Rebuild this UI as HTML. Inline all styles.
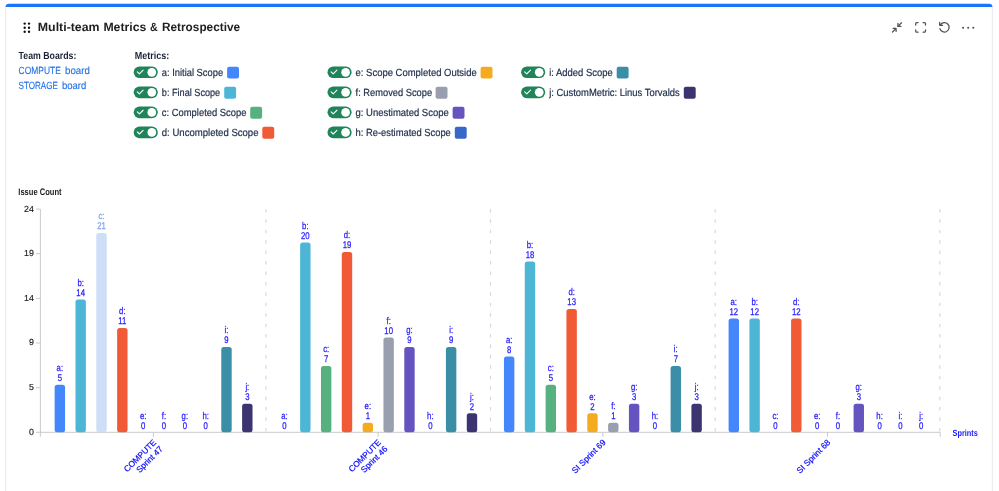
<!DOCTYPE html>
<html lang="en"><head><meta charset="utf-8"><title>Multi-team Metrics &amp; Retrospective</title>
<style>
html,body{margin:0;padding:0;background:#fff;}
body{width:999px;height:491px;overflow:hidden;position:relative;font-family:"Liberation Sans", sans-serif;}
svg{position:absolute;left:0;top:0;}
svg text{font-family:"Liberation Sans", sans-serif;text-rendering:geometricPrecision;}
.lg{font-size:10.4px;fill:#22314e;stroke:#22314e;stroke-width:0.2px;}
.hd{font-size:10.3px;font-weight:bold;fill:#1b2436;}
.lk{font-size:10.4px;fill:#2673ea;stroke:#2673ea;stroke-width:0.15px;}
.lb{font-size:9.7px;fill:#2418ff;stroke:#2418ff;stroke-width:0.25px;text-anchor:middle;}.lb.hl{fill:#7fa3f3;stroke:#7fa3f3;}
.yt{font-size:8.8px;fill:#1a1a1a;stroke:#1a1a1a;stroke-width:0.15px;text-anchor:end;}
.xl{font-size:8.4px;fill:#0a0aff;stroke:#0a0aff;stroke-width:0.2px;text-anchor:end;}
</style></head><body>
<svg width="999" height="491" viewBox="0 0 999 491">
<g id="panel">
<defs><clipPath id="topclip"><rect x="0" y="0" width="999" height="6.9"/></clipPath></defs>
<rect x="5.5" y="3.8" width="987" height="12" rx="3.6" fill="#1a76f6" clip-path="url(#topclip)"/>
<path d="M5.6 6.9 V491 M992.4 6.9 V491" stroke="#e6e7ea" stroke-width="0.9" fill="none"/>
</g>
<g id="header">
<circle cx="24.7" cy="23.6" r="1.18" fill="#111"/>
<circle cx="24.7" cy="27.7" r="1.18" fill="#111"/>
<circle cx="24.7" cy="31.8" r="1.18" fill="#111"/>
<circle cx="29.0" cy="23.6" r="1.18" fill="#111"/>
<circle cx="29.0" cy="27.7" r="1.18" fill="#111"/>
<circle cx="29.0" cy="31.8" r="1.18" fill="#111"/>
<text y="30.9" font-size="12px" font-weight="bold" fill="#1e1f21"><tspan x="37.8" textLength="61.8" lengthAdjust="spacingAndGlyphs">Multi-team</tspan> <tspan x="103.4" textLength="43" lengthAdjust="spacingAndGlyphs">Metrics</tspan> <tspan x="150.0" textLength="7.7" lengthAdjust="spacingAndGlyphs">&amp;</tspan> <tspan x="162" textLength="78.1" lengthAdjust="spacingAndGlyphs">Retrospective</tspan></text>
<g fill="none" stroke="#4e525a" stroke-width="1.25" stroke-linecap="round" stroke-linejoin="round">
<path d="M901.5 22.8 L897.9 26.4 M897.9 23.4 V26.4 H900.9"/>
<path d="M892.5 32 L896.1 28.4 M896.1 31.4 V28.4 H893.1"/>
<path d="M915.7 25 V23.6 Q915.7 22.6 916.7 22.6 H918.1 M923.1 22.6 H924.5 Q925.5 22.6 925.5 23.6 V25 M925.5 29.8 V31.2 Q925.5 32.2 924.5 32.2 H923.1 M918.1 32.2 H916.7 Q915.7 32.2 915.7 31.2 V29.8"/>
<path d="M940.6 24.6 A4.7 4.7 0 1 1 939.9 28.6 M939.7 22.4 V25.3 H942.6"/>
</g>
<circle cx="963.1" cy="27.8" r="1.05" fill="#4e525a"/>
<circle cx="968.2" cy="27.8" r="1.05" fill="#4e525a"/>
<circle cx="973.3" cy="27.8" r="1.05" fill="#4e525a"/>
</g>
<g id="filters">
<text class="hd" x="18.6" y="59.0" textLength="57.7" lengthAdjust="spacingAndGlyphs">Team Boards:</text>
<text class="lk" y="74.2"><tspan x="18.6" textLength="42.3" lengthAdjust="spacingAndGlyphs">COMPUTE</tspan> <tspan x="65.0" textLength="24.8" lengthAdjust="spacingAndGlyphs">board</tspan></text>
<text class="lk" y="89.2"><tspan x="18.6" textLength="39.3" lengthAdjust="spacingAndGlyphs">STORAGE</tspan> <tspan x="61.9" textLength="24.4" lengthAdjust="spacingAndGlyphs">board</tspan></text>
<text class="hd" x="134.7" y="59.1" textLength="34.5" lengthAdjust="spacingAndGlyphs">Metrics:</text>
<rect x="133.7" y="66.40" width="24.1" height="11.7" rx="5.85" fill="#1f845a"/>
<circle cx="151.8" cy="72.30" r="4.35" fill="#fff"/>
<path d="M137.3 71.85 l2.1 2 l3.7 -3.7" fill="none" stroke="#fff" stroke-width="1.1" stroke-linecap="round" stroke-linejoin="round"/>
<text class="lg" x="161.8" y="75.90" textLength="61.3" lengthAdjust="spacingAndGlyphs">a: Initial Scope</text>
<rect x="227.1" y="66.70" width="11.9" height="11.9" rx="2" fill="#4486fc"/>
<rect x="133.7" y="86.45" width="24.1" height="11.7" rx="5.85" fill="#1f845a"/>
<circle cx="151.8" cy="92.35" r="4.35" fill="#fff"/>
<path d="M137.3 91.90 l2.1 2 l3.7 -3.7" fill="none" stroke="#fff" stroke-width="1.1" stroke-linecap="round" stroke-linejoin="round"/>
<text class="lg" x="161.8" y="95.95" textLength="58.4" lengthAdjust="spacingAndGlyphs">b: Final Scope</text>
<rect x="224.2" y="86.75" width="11.9" height="11.9" rx="2" fill="#4db6d6"/>
<rect x="133.7" y="106.50" width="24.1" height="11.7" rx="5.85" fill="#1f845a"/>
<circle cx="151.8" cy="112.40" r="4.35" fill="#fff"/>
<path d="M137.3 111.95 l2.1 2 l3.7 -3.7" fill="none" stroke="#fff" stroke-width="1.1" stroke-linecap="round" stroke-linejoin="round"/>
<text class="lg" x="161.8" y="116.00" textLength="84.7" lengthAdjust="spacingAndGlyphs">c: Completed Scope</text>
<rect x="250.2" y="106.80" width="11.9" height="11.9" rx="2" fill="#57b17f"/>
<rect x="133.7" y="126.55" width="24.1" height="11.7" rx="5.85" fill="#1f845a"/>
<circle cx="151.8" cy="132.45" r="4.35" fill="#fff"/>
<path d="M137.3 132.00 l2.1 2 l3.7 -3.7" fill="none" stroke="#fff" stroke-width="1.1" stroke-linecap="round" stroke-linejoin="round"/>
<text class="lg" x="161.8" y="136.05" textLength="96.7" lengthAdjust="spacingAndGlyphs">d: Uncompleted Scope</text>
<rect x="262.3" y="126.85" width="11.9" height="11.9" rx="2" fill="#f05a35"/>
<rect x="327.5" y="66.40" width="24.1" height="11.7" rx="5.85" fill="#1f845a"/>
<circle cx="345.6" cy="72.30" r="4.35" fill="#fff"/>
<path d="M331.1 71.85 l2.1 2 l3.7 -3.7" fill="none" stroke="#fff" stroke-width="1.1" stroke-linecap="round" stroke-linejoin="round"/>
<text class="lg" x="355.6" y="75.90" textLength="121.1" lengthAdjust="spacingAndGlyphs">e: Scope Completed Outside</text>
<rect x="480.6" y="66.70" width="11.9" height="11.9" rx="2" fill="#f5ab1f"/>
<rect x="327.5" y="86.45" width="24.1" height="11.7" rx="5.85" fill="#1f845a"/>
<circle cx="345.6" cy="92.35" r="4.35" fill="#fff"/>
<path d="M331.1 91.90 l2.1 2 l3.7 -3.7" fill="none" stroke="#fff" stroke-width="1.1" stroke-linecap="round" stroke-linejoin="round"/>
<text class="lg" x="355.6" y="95.95" textLength="76.5" lengthAdjust="spacingAndGlyphs">f: Removed Scope</text>
<rect x="435.6" y="86.75" width="11.9" height="11.9" rx="2" fill="#9a9fb0"/>
<rect x="327.5" y="106.50" width="24.1" height="11.7" rx="5.85" fill="#1f845a"/>
<circle cx="345.6" cy="112.40" r="4.35" fill="#fff"/>
<path d="M331.1 111.95 l2.1 2 l3.7 -3.7" fill="none" stroke="#fff" stroke-width="1.1" stroke-linecap="round" stroke-linejoin="round"/>
<text class="lg" x="355.6" y="116.00" textLength="93.1" lengthAdjust="spacingAndGlyphs">g: Unestimated Scope</text>
<rect x="452.6" y="106.80" width="11.9" height="11.9" rx="2" fill="#6554c0"/>
<rect x="327.5" y="126.55" width="24.1" height="11.7" rx="5.85" fill="#1f845a"/>
<circle cx="345.6" cy="132.45" r="4.35" fill="#fff"/>
<path d="M331.1 132.00 l2.1 2 l3.7 -3.7" fill="none" stroke="#fff" stroke-width="1.1" stroke-linecap="round" stroke-linejoin="round"/>
<text class="lg" x="355.6" y="136.05" textLength="95.2" lengthAdjust="spacingAndGlyphs">h: Re-estimated Scope</text>
<rect x="454.8" y="126.85" width="11.9" height="11.9" rx="2" fill="#3568c9"/>
<rect x="521.1" y="66.40" width="24.1" height="11.7" rx="5.85" fill="#1f845a"/>
<circle cx="539.2" cy="72.30" r="4.35" fill="#fff"/>
<path d="M524.7 71.85 l2.1 2 l3.7 -3.7" fill="none" stroke="#fff" stroke-width="1.1" stroke-linecap="round" stroke-linejoin="round"/>
<text class="lg" x="549.2" y="75.90" textLength="63.5" lengthAdjust="spacingAndGlyphs">i: Added Scope</text>
<rect x="616.7" y="66.70" width="11.9" height="11.9" rx="2" fill="#3a8ea6"/>
<rect x="521.1" y="86.45" width="24.1" height="11.7" rx="5.85" fill="#1f845a"/>
<circle cx="539.2" cy="92.35" r="4.35" fill="#fff"/>
<path d="M524.7 91.90 l2.1 2 l3.7 -3.7" fill="none" stroke="#fff" stroke-width="1.1" stroke-linecap="round" stroke-linejoin="round"/>
<text class="lg" x="549.2" y="95.95" textLength="130.6" lengthAdjust="spacingAndGlyphs">j: CustomMetric: Linus Torvalds</text>
<rect x="683.8" y="86.75" width="11.9" height="11.9" rx="2" fill="#3b3470"/>
</g>
<g id="chart">
<text x="18.3" y="194.7" font-size="9.5px" font-weight="bold" fill="#222" textLength="43.3" lengthAdjust="spacingAndGlyphs">Issue Count</text>
<g stroke="#c4c4c4" stroke-width="0.9" fill="none">
<path d="M40.4 209.1 V436.7"/>
<path d="M40.4 432.3 H940.2 V436.7"/>
<path d="M36.0 432.3 H40.4"/>
<path d="M36.0 387.7 H40.4"/>
<path d="M36.0 343.0 H40.4"/>
<path d="M36.0 298.4 H40.4"/>
<path d="M36.0 253.7 H40.4"/>
<path d="M36.0 209.1 H40.4"/>
</g>
<text class="yt" x="33.8" y="434.7">0</text>
<text class="yt" x="33.8" y="390.1">5</text>
<text class="yt" x="33.8" y="345.4">9</text>
<text class="yt" x="33.8" y="300.8">14</text>
<text class="yt" x="33.8" y="256.1">19</text>
<text class="yt" x="33.8" y="211.5">24</text>
<g stroke="#d9d9d9" stroke-width="1.2" stroke-dasharray="3.5 6.93" fill="none">
<path d="M265.9 208.9 V432.3"/>
<path d="M490.5 208.9 V432.3"/>
<path d="M715.2 208.9 V432.3"/>
<path d="M939.8 208.9 V432.3"/>
</g>
<rect x="54.65" y="384.86" width="10.4" height="47.44" rx="2.5" fill="#4486fc"/>
<g class="lb" transform="translate(59.85,384.86) scale(0.8,1)"><text y="-13.6">a:</text><text y="-3.7">5</text></g>
<rect x="75.48" y="299.47" width="10.4" height="132.83" rx="2.5" fill="#4db6d6"/>
<g class="lb" transform="translate(80.68,299.47) scale(0.8,1)"><text y="-13.6">b:</text><text y="-3.7">14</text></g>
<rect x="96.31" y="233.05" width="10.4" height="199.25" rx="2.5" fill="#cddef7"/>
<g class="lb hl" transform="translate(101.51,233.05) scale(0.8,1)"><text y="-13.6">c:</text><text y="-3.7">21</text></g>
<rect x="117.14" y="327.93" width="10.4" height="104.37" rx="2.5" fill="#f05a35"/>
<g class="lb" transform="translate(122.34,327.93) scale(0.8,1)"><text y="-13.6">d:</text><text y="-3.7">11</text></g>
<g class="lb" transform="translate(143.17,432.30) scale(0.8,1)"><text y="-13.6">e:</text><text y="-3.7">0</text></g>
<g class="lb" transform="translate(164.00,432.30) scale(0.8,1)"><text y="-13.6">f:</text><text y="-3.7">0</text></g>
<g class="lb" transform="translate(184.83,432.30) scale(0.8,1)"><text y="-13.6">g:</text><text y="-3.7">0</text></g>
<g class="lb" transform="translate(205.66,432.30) scale(0.8,1)"><text y="-13.6">h:</text><text y="-3.7">0</text></g>
<rect x="221.29" y="346.91" width="10.4" height="85.39" rx="2.5" fill="#3a8ea6"/>
<g class="lb" transform="translate(226.49,346.91) scale(0.8,1)"><text y="-13.6">i:</text><text y="-3.7">9</text></g>
<rect x="242.12" y="403.84" width="10.4" height="28.46" rx="2.5" fill="#3b3470"/>
<g class="lb" transform="translate(247.32,403.84) scale(0.8,1)"><text y="-13.6">j:</text><text y="-3.7">3</text></g>
<path d="M153.4 432.3 V436.7" stroke="#c4c4c4" stroke-width="0.9"/>
<g transform="translate(152.9,432.3) rotate(-45)">
<text class="xl" x="-4.8" y="10.3">COMPUTE</text>
<text class="xl" x="-4.8" y="19.6">Sprint 47</text>
</g>
<g class="lb" transform="translate(284.50,432.30) scale(0.8,1)"><text y="-13.6">a:</text><text y="-3.7">0</text></g>
<rect x="300.13" y="242.54" width="10.4" height="189.76" rx="2.5" fill="#4db6d6"/>
<g class="lb" transform="translate(305.33,242.54) scale(0.8,1)"><text y="-13.6">b:</text><text y="-3.7">20</text></g>
<rect x="320.96" y="365.88" width="10.4" height="66.42" rx="2.5" fill="#57b17f"/>
<g class="lb" transform="translate(326.16,365.88) scale(0.8,1)"><text y="-13.6">c:</text><text y="-3.7">7</text></g>
<rect x="341.79" y="252.03" width="10.4" height="180.27" rx="2.5" fill="#f05a35"/>
<g class="lb" transform="translate(346.99,252.03) scale(0.8,1)"><text y="-13.6">d:</text><text y="-3.7">19</text></g>
<rect x="362.62" y="422.81" width="10.4" height="9.49" rx="2.5" fill="#f5ab1f"/>
<g class="lb" transform="translate(367.82,422.81) scale(0.8,1)"><text y="-13.6">e:</text><text y="-3.7">1</text></g>
<rect x="383.45" y="337.42" width="10.4" height="94.88" rx="2.5" fill="#9a9fb0"/>
<g class="lb" transform="translate(388.65,337.42) scale(0.8,1)"><text y="-13.6">f:</text><text y="-3.7">10</text></g>
<rect x="404.28" y="346.91" width="10.4" height="85.39" rx="2.5" fill="#6554c0"/>
<g class="lb" transform="translate(409.48,346.91) scale(0.8,1)"><text y="-13.6">g:</text><text y="-3.7">9</text></g>
<g class="lb" transform="translate(430.31,432.30) scale(0.8,1)"><text y="-13.6">h:</text><text y="-3.7">0</text></g>
<rect x="445.94" y="346.91" width="10.4" height="85.39" rx="2.5" fill="#3a8ea6"/>
<g class="lb" transform="translate(451.14,346.91) scale(0.8,1)"><text y="-13.6">i:</text><text y="-3.7">9</text></g>
<rect x="466.77" y="413.32" width="10.4" height="18.98" rx="2.5" fill="#3b3470"/>
<g class="lb" transform="translate(471.97,413.32) scale(0.8,1)"><text y="-13.6">j:</text><text y="-3.7">2</text></g>
<path d="M378.1 432.3 V436.7" stroke="#c4c4c4" stroke-width="0.9"/>
<g transform="translate(377.6,432.3) rotate(-45)">
<text class="xl" x="-4.8" y="10.3">COMPUTE</text>
<text class="xl" x="-4.8" y="19.6">Sprint 46</text>
</g>
<rect x="503.95" y="356.40" width="10.4" height="75.90" rx="2.5" fill="#4486fc"/>
<g class="lb" transform="translate(509.15,356.40) scale(0.8,1)"><text y="-13.6">a:</text><text y="-3.7">8</text></g>
<rect x="524.78" y="261.52" width="10.4" height="170.78" rx="2.5" fill="#4db6d6"/>
<g class="lb" transform="translate(529.98,261.52) scale(0.8,1)"><text y="-13.6">b:</text><text y="-3.7">18</text></g>
<rect x="545.61" y="384.86" width="10.4" height="47.44" rx="2.5" fill="#57b17f"/>
<g class="lb" transform="translate(550.81,384.86) scale(0.8,1)"><text y="-13.6">c:</text><text y="-3.7">5</text></g>
<rect x="566.44" y="308.96" width="10.4" height="123.34" rx="2.5" fill="#f05a35"/>
<g class="lb" transform="translate(571.64,308.96) scale(0.8,1)"><text y="-13.6">d:</text><text y="-3.7">13</text></g>
<rect x="587.27" y="413.32" width="10.4" height="18.98" rx="2.5" fill="#f5ab1f"/>
<g class="lb" transform="translate(592.47,413.32) scale(0.8,1)"><text y="-13.6">e:</text><text y="-3.7">2</text></g>
<rect x="608.10" y="422.81" width="10.4" height="9.49" rx="2.5" fill="#9a9fb0"/>
<g class="lb" transform="translate(613.30,422.81) scale(0.8,1)"><text y="-13.6">f:</text><text y="-3.7">1</text></g>
<rect x="628.93" y="403.84" width="10.4" height="28.46" rx="2.5" fill="#6554c0"/>
<g class="lb" transform="translate(634.13,403.84) scale(0.8,1)"><text y="-13.6">g:</text><text y="-3.7">3</text></g>
<g class="lb" transform="translate(654.96,432.30) scale(0.8,1)"><text y="-13.6">h:</text><text y="-3.7">0</text></g>
<rect x="670.59" y="365.88" width="10.4" height="66.42" rx="2.5" fill="#3a8ea6"/>
<g class="lb" transform="translate(675.79,365.88) scale(0.8,1)"><text y="-13.6">i:</text><text y="-3.7">7</text></g>
<rect x="691.42" y="403.84" width="10.4" height="28.46" rx="2.5" fill="#3b3470"/>
<g class="lb" transform="translate(696.62,403.84) scale(0.8,1)"><text y="-13.6">j:</text><text y="-3.7">3</text></g>
<path d="M602.8 432.3 V436.7" stroke="#c4c4c4" stroke-width="0.9"/>
<g transform="translate(602.3,432.3) rotate(-45)">
<text class="xl" x="-4.8" y="10.3">SI Sprint 69</text>
</g>
<rect x="728.60" y="318.44" width="10.4" height="113.86" rx="2.5" fill="#4486fc"/>
<g class="lb" transform="translate(733.80,318.44) scale(0.8,1)"><text y="-13.6">a:</text><text y="-3.7">12</text></g>
<rect x="749.43" y="318.44" width="10.4" height="113.86" rx="2.5" fill="#4db6d6"/>
<g class="lb" transform="translate(754.63,318.44) scale(0.8,1)"><text y="-13.6">b:</text><text y="-3.7">12</text></g>
<g class="lb" transform="translate(775.46,432.30) scale(0.8,1)"><text y="-13.6">c:</text><text y="-3.7">0</text></g>
<rect x="791.09" y="318.44" width="10.4" height="113.86" rx="2.5" fill="#f05a35"/>
<g class="lb" transform="translate(796.29,318.44) scale(0.8,1)"><text y="-13.6">d:</text><text y="-3.7">12</text></g>
<g class="lb" transform="translate(817.12,432.30) scale(0.8,1)"><text y="-13.6">e:</text><text y="-3.7">0</text></g>
<g class="lb" transform="translate(837.95,432.30) scale(0.8,1)"><text y="-13.6">f:</text><text y="-3.7">0</text></g>
<rect x="853.58" y="403.84" width="10.4" height="28.46" rx="2.5" fill="#6554c0"/>
<g class="lb" transform="translate(858.78,403.84) scale(0.8,1)"><text y="-13.6">g:</text><text y="-3.7">3</text></g>
<g class="lb" transform="translate(879.61,432.30) scale(0.8,1)"><text y="-13.6">h:</text><text y="-3.7">0</text></g>
<g class="lb" transform="translate(900.44,432.30) scale(0.8,1)"><text y="-13.6">i:</text><text y="-3.7">0</text></g>
<g class="lb" transform="translate(921.27,432.30) scale(0.8,1)"><text y="-13.6">j:</text><text y="-3.7">0</text></g>
<path d="M827.5 432.3 V436.7" stroke="#c4c4c4" stroke-width="0.9"/>
<g transform="translate(827.0,432.3) rotate(-45)">
<text class="xl" x="-4.8" y="10.3">SI Sprint 68</text>
</g>
<text x="952.5" y="435.8" font-size="9px" font-weight="bold" fill="#1a1aff" textLength="25.4" lengthAdjust="spacingAndGlyphs">Sprints</text>
</g>
</svg>
</body></html>
